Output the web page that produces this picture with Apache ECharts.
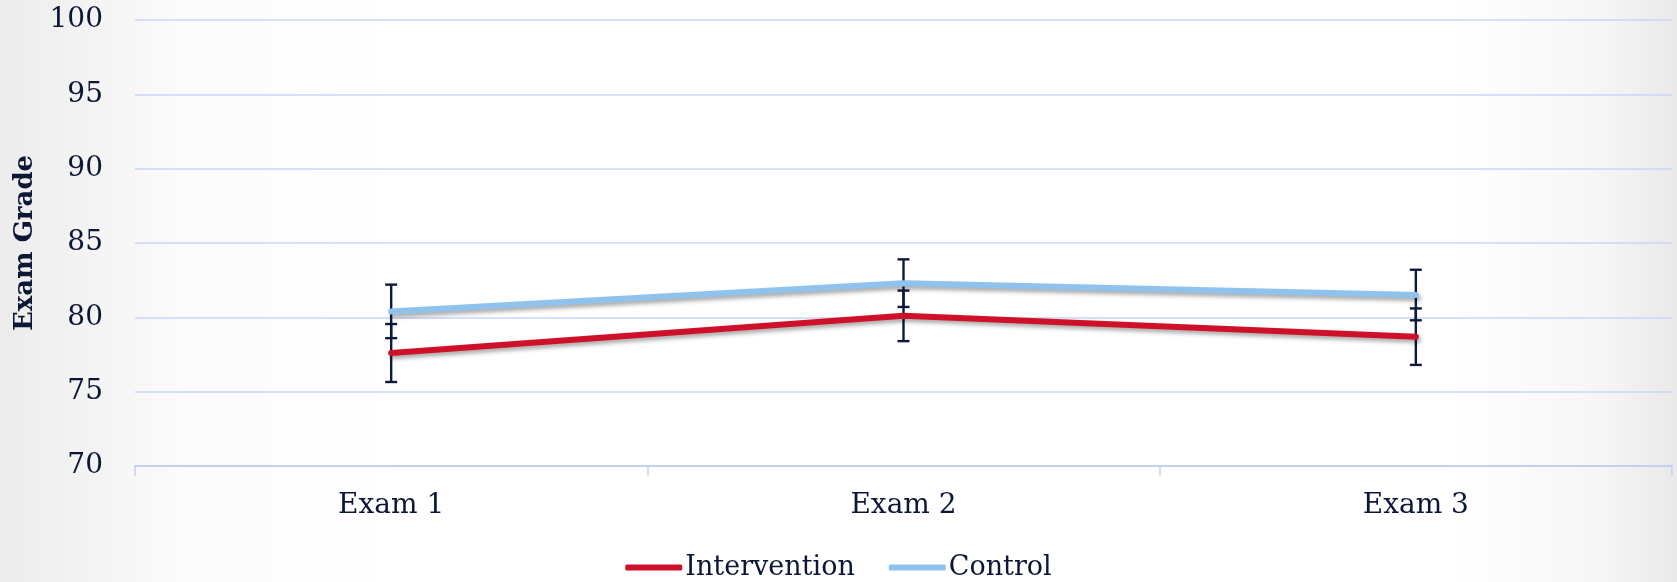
<!DOCTYPE html>
<html><head><meta charset="utf-8">
<script src="https://cdn.jsdelivr.net/npm/echarts@6/dist/echarts.min.js"></script>
<style>
html,body{margin:0;padding:0;width:1677px;height:582px;overflow:hidden;
background:linear-gradient(to right,#ececec 0px,#fbfbfb 180px,#ffffff 400px,#ffffff 1450px,#f6f6f6 1600px,#e9e9e9 1677px);}
#c{width:1677px;height:582px;}
</style></head><body><div id="c"></div>
<script>
const categories = ['Exam 1', 'Exam 2', 'Exam 3'];
const interventionMean = [77.6, 80.1, 78.7];
const interventionErr = [1.95, 1.7, 1.9];
const controlMean = [80.4, 82.3, 81.5];
const controlErr = [1.8, 1.6, 1.7];
const yTicks = { min: 70, max: 100, step: 5 };

const textColor = '#0c1736';
const font = 'DejaVu Serif';

function errData(mean, err) {
  return categories.map((c, i) => [i, mean[i] - err[i], mean[i] + err[i]]);
}
function errRender(params, api) {
  const x = api.value(0);
  const lo = api.coord([x, api.value(1)]);
  const hi = api.coord([x, api.value(2)]);
  const hw = 6;
  const st = { stroke: '#0e1a3a', lineWidth: 2.4 };
  return { type: 'group', children: [
    { type: 'line', shape: { x1: lo[0], y1: lo[1], x2: hi[0], y2: hi[1] }, style: st },
    { type: 'line', shape: { x1: lo[0] - hw, y1: lo[1], x2: lo[0] + hw, y2: lo[1] }, style: st },
    { type: 'line', shape: { x1: hi[0] - hw, y1: hi[1], x2: hi[0] + hw, y2: hi[1] }, style: st }
  ]};
}
const shadow = { shadowColor: 'rgba(0,0,0,0.35)', shadowBlur: 4, shadowOffsetX: 2, shadowOffsetY: 3 };

const chart = echarts.init(document.getElementById('c'), null, { renderer: 'canvas' });
chart.setOption({
  animation: false,
  backgroundColor: 'transparent',
  grid: { left: 135, right: 5, top: 20, bottom: 116, containLabel: false },
  legend: {
    bottom: -4, left: 'center',
    data: ['Intervention', 'Control'],
    icon: 'roundRect', itemWidth: 57, itemHeight: 6, itemGap: 34,
    textStyle: { color: textColor, fontFamily: font, fontSize: 27, padding: [0, 0, 0, -2] }
  },
  xAxis: {
    type: 'category', data: categories, boundaryGap: true,
    axisLine: { lineStyle: { color: '#c3d1f0', width: 2 } },
    axisTick: { show: true, length: 10, lineStyle: { color: '#c3d1f0', width: 1.5 } },
    axisLabel: { color: textColor, fontFamily: font, fontSize: 28, margin: 26 }
  },
  yAxis: {
    type: 'value', min: yTicks.min, max: yTicks.max, interval: yTicks.step,
    name: 'Exam Grade', nameLocation: 'middle', nameGap: 92, nameRotate: 90,
    nameTextStyle: { color: textColor, fontFamily: font, fontSize: 26, fontWeight: 'bold' },
    axisLine: { show: false }, axisTick: { show: false },
    splitLine: { lineStyle: { color: '#c9d6f3', width: 1.5 } },
    axisLabel: { color: textColor, fontFamily: font, fontSize: 28, margin: 32 }
  },
  series: [
    { name: 'IntErr', type: 'custom', renderItem: errRender, data: errData(interventionMean, interventionErr), z: 2, encode: { x: 0, y: [1, 2] } },
    { name: 'CtlErr', type: 'custom', renderItem: errRender, data: errData(controlMean, controlErr), z: 2, encode: { x: 0, y: [1, 2] } },
    { name: 'Intervention', type: 'line', data: interventionMean, symbol: 'none', z: 3,
      itemStyle: { color: '#cf1029' },
      lineStyle: Object.assign({ color: '#cf1029', width: 6, cap: 'round' }, shadow) },
    { name: 'Control', type: 'line', data: controlMean, symbol: 'none', z: 3,
      itemStyle: { color: '#8fc2ec' },
      lineStyle: Object.assign({ color: '#8fc2ec', width: 6, cap: 'round' }, shadow) }
  ]
});
</script></body></html>
